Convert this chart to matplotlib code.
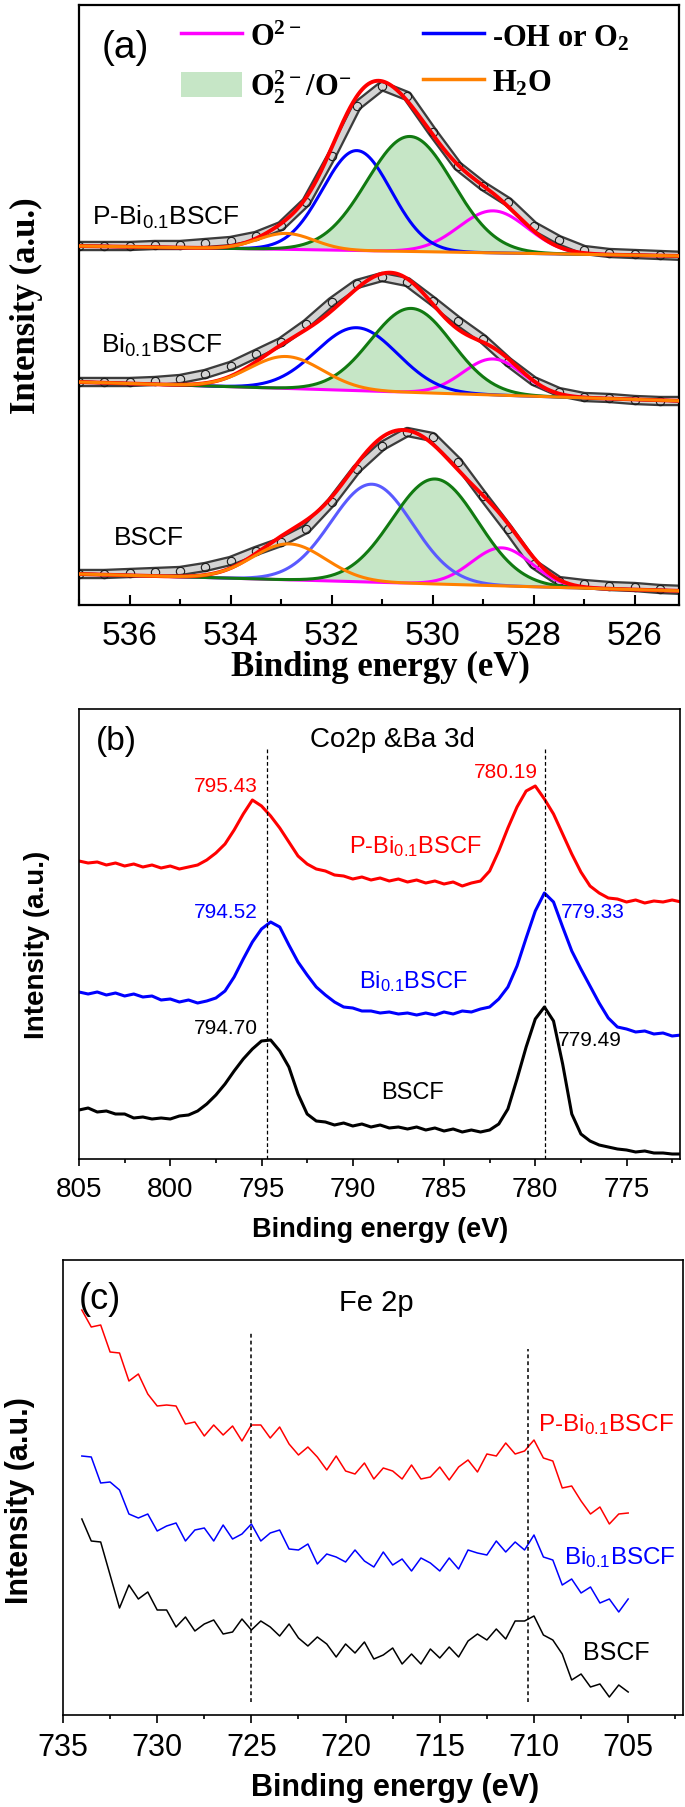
import numpy as np
import matplotlib
matplotlib.use('Agg')
import matplotlib.pyplot as plt
from matplotlib.lines import Line2D
from matplotlib.patches import Patch
from matplotlib.ticker import MultipleLocator

plt.rcParams['font.family'] = ['Liberation Sans', 'DejaVu Sans']
plt.rcParams['mathtext.fontset'] = 'custom'
plt.rcParams['mathtext.default'] = 'regular'
plt.rcParams['mathtext.rm'] = 'Liberation Sans'

# ---------------- (a) O 1s : measured points (0.5 eV steps, 537 -> 525 eV)
o1s_energy = np.arange(537.0, 524.9, -0.5)
o1s_pbi = [359, 359, 359, 360, 360, 362, 364, 369, 379, 403, 449, 499, 519,
           509, 473, 439, 419, 403, 379, 365, 355, 352, 351, 350, 349]
o1s_bi = [223, 223, 223, 224, 226, 231, 239, 251, 263, 281, 303, 321, 328,
          323, 304, 284, 266, 243, 224, 213, 208, 207, 205, 204, 204]
o1s_bscf = [31, 31, 32, 33, 34, 38, 44, 54, 63, 76, 103, 136, 159,
            173, 168, 143, 109, 76, 41, 24, 21, 19, 18, 16, 15]

# linear background, value at 537 eV and at 525 eV
bg_pbi = [359, 349]
bg_bi = [223, 204]
bg_bscf = [31, 14]

# fitted components, order: O2-, O2^2-/O-, -OH or O2, H2O
pbi_center = [528.8, 530.45, 531.5, 532.9]
pbi_height = [42, 115, 100, 16]
pbi_fwhm = [1.6, 2.0, 1.6, 1.3]
bi_center = [528.8, 530.42, 531.5, 532.9]
bi_height = [36, 84, 63, 32]
bi_fwhm = [1.4, 1.9, 1.9, 1.7]
bscf_center = [528.63, 529.95, 531.2, 532.84]
bscf_height = [38, 105, 98, 36]
bscf_fwhm = [1.4, 2.0, 1.9, 1.7]

# ---------------- (b) Co 2p & Ba 3d (0.5 eV steps, 805 -> 772 eV)
co_energy = np.arange(805.0, 771.9, -0.5)
co_pbi = [298, 296, 297, 294, 296, 293, 295, 292, 294, 291,
          293, 290, 292, 294, 299, 306, 315, 329, 345, 359,
          353, 343, 331, 317, 303, 295, 290, 288, 284, 283,
          280, 282, 279, 281, 278, 280, 277, 279, 276, 278,
          275, 277, 273, 276, 278, 288, 308, 331, 352, 368,
          373, 360, 345, 325, 305, 287, 273, 266, 261, 260,
          257, 259, 256, 258, 257, 259, 257]
co_bi = [167, 165, 167, 164, 166, 163, 165, 162, 163, 159,
         160, 157, 159, 156, 158, 161, 168, 182, 200, 217,
         230, 237, 232, 214, 197, 184, 172, 164, 157, 152,
         151, 148, 148, 146, 147, 145, 146, 144, 146, 144,
         147, 145, 148, 147, 150, 152, 160, 172, 193, 221,
         248, 266, 257, 232, 208, 190, 173, 156, 141, 132,
         130, 127, 128, 125, 126, 123, 124]
co_bscf = [49, 51, 47, 48, 45, 45, 41, 42, 40, 41,
           40, 43, 44, 48, 55, 64, 75, 88, 100, 110,
           118, 119, 108, 92, 65, 45, 38, 37, 34, 36,
           33, 35, 32, 34, 31, 32, 30, 32, 29, 31,
           28, 30, 27, 29, 27, 29, 35, 50, 80, 112,
           140, 152, 138, 95, 45, 25, 18, 14, 12, 10,
           9, 7, 8, 6, 6, 5, 5]
co_peaks_pbi = [795.43, 780.19]
co_peaks_bi = [794.52, 779.33]
co_peaks_bscf = [794.70, 779.49]

# ---------------- (c) Fe 2p (0.5 eV steps, 734 -> 705 eV)
fe_energy = np.arange(734.0, 704.9, -0.5)
fe_pbi = [405, 388, 390, 363, 362, 334, 341, 321, 309, 310,
          309, 291, 293, 279, 290, 280, 289, 274, 290, 290,
          277, 288, 271, 260, 268, 258, 245, 259, 244, 241,
          252, 236, 247, 244, 236, 250, 236, 238, 248, 235,
          248, 255, 243, 261, 259, 272, 261, 264, 275, 257,
          254, 227, 229, 214, 201, 208, 191, 201, 202]
fe_bi = [259, 258, 232, 233, 225, 201, 197, 201, 184, 189,
         192, 174, 185, 187, 174, 190, 176, 181, 191, 174,
         182, 185, 166, 165, 171, 151, 161, 158, 153, 165,
         154, 148, 163, 150, 156, 144, 157, 152, 144, 157,
         146, 165, 162, 160, 174, 163, 173, 165, 180, 158,
         155, 130, 136, 122, 128, 112, 116, 103, 116]
fe_bscf = [196, 174, 173, 140, 107, 130, 116, 123, 105, 105,
           88, 98, 84, 91, 95, 81, 83, 96, 85, 94,
           88, 79, 91, 77, 69, 78, 71, 58, 71, 62,
           73, 56, 60, 67, 51, 61, 51, 66, 57, 68,
           58, 74, 81, 75, 86, 76, 94, 94, 99, 80,
           75, 61, 35, 41, 28, 31, 18, 30, 23]
fe_lines = [725.0, 710.3]


def gauss(e, c, h, w):
    return h * np.exp(-4 * np.log(2) * (e - c) ** 2 / w ** 2)


W, H = 685, 1808
fig = plt.figure(figsize=(W / 100, H / 100), dpi=100)


def add_ax(l, t, r, b):
    return fig.add_axes([l / W, 1 - b / H, (r - l) / W, (b - t) / H])


# ======================= panel (a)
ax = add_ax(79, 6, 679, 606)
e = np.linspace(537, 525, 600)
comp_colors = ['#ff00ff', '#117a11', '#0000ff', '#ff8000']
samples = [(o1s_pbi, bg_pbi, pbi_center, pbi_height, pbi_fwhm, '#0000ff'),
           (o1s_bi, bg_bi, bi_center, bi_height, bi_fwhm, '#0000ff'),
           (o1s_bscf, bg_bscf, bscf_center, bscf_height, bscf_fwhm, '#5a5aff')]
for meas, bg, cen, hgt, fw, blue in samples:
    base = np.interp(e, [525, 537], [bg[1], bg[0]])
    comps = [gauss(e, c, h, w) for c, h, w in zip(cen, hgt, fw)]
    ax.fill_between(e, base, base + comps[1], color='#c6e6c6', lw=0, zorder=1)
    # measured data drawn as a band of open circles
    ax.plot(o1s_energy, meas, color='#3c3c3c', lw=7.5, solid_joinstyle='round',
            solid_capstyle='round', zorder=2)
    ax.plot(o1s_energy, meas, color='#d4d4d4', lw=4.2, solid_joinstyle='round',
            solid_capstyle='round', zorder=2)
    ax.plot(o1s_energy, meas, ls='none', marker='o', ms=6, mfc='none',
            mec='#1a1a1a', mew=0.8, zorder=2)
    cols = [comp_colors[0], comp_colors[1], blue, comp_colors[3]]
    for k in [0, 2, 1]:
        ax.plot(e, base + comps[k], color=cols[k], lw=2.2, zorder=3)
    ax.plot(e, base + sum(comps), color='#ff0000', lw=2.8, zorder=4)
    ax.plot(e, base + comps[3], color=cols[3], lw=2.2, zorder=5)

ax.set_xlim(537, 525.12)
ax.set_ylim(0, 600)
ax.set_yticks([])
ax.xaxis.set_major_locator(MultipleLocator(2))
ax.xaxis.set_minor_locator(MultipleLocator(1))
ax.tick_params(axis='x', which='major', direction='in', length=7, width=1.5,
               labelsize=24, pad=11)
ax.tick_params(axis='x', which='minor', direction='in', length=4.3, width=1.5)
for s in ax.spines.values():
    s.set_linewidth(1.6)
serif_bold = dict(fontfamily='Liberation Serif', fontweight='bold', fontsize=25)
ax.set_xlabel('Binding energy (eV)', va='center', **serif_bold)
ax.xaxis.set_label_coords(0.503, -0.102)
ax.set_ylabel('Intensity (a.u.)', va='center', **serif_bold)
ax.yaxis.set_label_coords(-0.088, 0.5)
ax.text(0.077, 0.93, '(a)', transform=ax.transAxes, fontsize=28, ha='center', va='center')
ax.text(536.74, 389, 'P-Bi$_{0.1}$BSCF', fontsize=19, va='center')
ax.text(536.56, 261, 'Bi$_{0.1}$BSCF', fontsize=19, va='center')
ax.text(536.31, 68, 'BSCF', fontsize=19, va='center')

handles = [Line2D([], [], color='#ff00ff', lw=2.5),
           Patch(facecolor='#c6e6c6', edgecolor='none'),
           Line2D([], [], color='#0000ff', lw=2.5),
           Line2D([], [], color='#ff8000', lw=2.5)]
labels = ['O$^{2-}$', 'O$_2^{2-}$/O$^{-}$', '-OH or O$_2$', 'H$_2$O']
ax.legend(handles, labels, ncol=2, loc='upper left', bbox_to_anchor=(0.17, 0.972),
          frameon=False, prop=dict(family='Liberation Serif', weight='bold', size=22),
          handlelength=2.0, handleheight=0.9, handletextpad=0.25,
          columnspacing=2.35, labelspacing=0.5, borderaxespad=0, borderpad=0)

# ======================= panel (b)
ax = add_ax(79, 710, 680, 1160)
ax.plot(co_energy, co_pbi, color='#ff0000', lw=2.2)
ax.plot(co_energy, co_bi, color='#0000ff', lw=2.2)
ax.plot(co_energy, co_bscf, color='#000000', lw=2.2)
for p in co_peaks_bscf:
    ax.axvline(p, ymin=0, ymax=0.915, color='k', lw=0.9, ls=(0, (3, 2)))
ax.set_xlim(805, 772.07)
ax.set_ylim(0, 450)
ax.set_yticks([])
ax.xaxis.set_major_locator(MultipleLocator(5))
ax.xaxis.set_minor_locator(MultipleLocator(2.5))
ax.tick_params(axis='x', which='major', direction='out', length=5, width=1.2,
               labelsize=20, pad=7)
ax.tick_params(axis='x', which='minor', direction='out', length=3, width=1.2)
for s in ax.spines.values():
    s.set_linewidth(1.2)
ax.set_xlabel('Binding energy (eV)', fontsize=19.5, fontweight='bold', va='center')
ax.xaxis.set_label_coords(0.501, -0.156)
ax.set_ylabel('Intensity (a.u.)', fontsize=20, fontweight='bold', va='center')
ax.yaxis.set_label_coords(-0.07, 0.478)
ax.text(0.062, 0.929, '(b)', transform=ax.transAxes, fontsize=24, ha='center', va='center')
ax.text(0.522, 0.933, 'Co2p &Ba 3d', transform=ax.transAxes, fontsize=20,
        ha='center', va='center')
peak_label_pos = [((796.95, 373), (781.6, 388)),
                  ((796.95, 248), (776.84, 248)),
                  ((796.95, 132), (777.0, 120))]
for peaks, pos, col in zip([co_peaks_pbi, co_peaks_bi, co_peaks_bscf],
                           peak_label_pos, ['#ff0000', '#0000ff', '#000000']):
    for p, (x, y) in zip(peaks, pos):
        ax.text(x, y, f'{p:.2f}', color=col, fontsize=15, ha='center', va='center')
ax.text(786.6, 313, 'P-Bi$_{0.1}$BSCF', color='#ff0000', fontsize=17, ha='center', va='center')
ax.text(786.7, 178, 'Bi$_{0.1}$BSCF', color='#0000ff', fontsize=17, ha='center', va='center')
ax.text(786.7, 67, 'BSCF', color='#000000', fontsize=17, ha='center', va='center')

# ======================= panel (c)
ax = add_ax(63, 1261, 683, 1716)
ax.plot(fe_energy, fe_pbi, color='#ff0000', lw=1.1)
ax.plot(fe_energy, fe_bi, color='#0000ff', lw=1.1)
ax.plot(fe_energy, fe_bscf, color='#000000', lw=1.1)
ax.axvline(fe_lines[0], ymin=0.029, ymax=0.842, color='k', lw=1.1, ls=(0, (2.5, 2)))
ax.axvline(fe_lines[1], ymin=0.029, ymax=0.804, color='k', lw=1.1, ls=(0, (2.5, 2)))
ax.set_xlim(735, 702.09)
ax.set_ylim(0, 455)
ax.set_yticks([])
ax.xaxis.set_major_locator(MultipleLocator(5))
ax.xaxis.set_minor_locator(MultipleLocator(2.5))
ax.tick_params(axis='x', which='major', direction='out', length=6, width=1.2,
               labelsize=22, pad=6.5)
ax.tick_params(axis='x', which='minor', direction='out', length=3, width=1.2)
for s in ax.spines.values():
    s.set_linewidth(1.2)
ax.set_xlabel('Binding energy (eV)', fontsize=22, fontweight='bold', va='center')
ax.xaxis.set_label_coords(0.535, -0.158)
ax.set_ylabel('Intensity (a.u.)', fontsize=22, fontweight='bold', va='center')
ax.yaxis.set_label_coords(-0.069, 0.4725)
ax.text(0.06, 0.916, '(c)', transform=ax.transAxes, fontsize=26, ha='center', va='center')
ax.text(0.505, 0.908, 'Fe 2p', transform=ax.transAxes, fontsize=21, ha='center', va='center')
ax.text(709.8, 291, 'P-Bi$_{0.1}$BSCF', color='#ff0000', fontsize=17.5, va='center')
ax.text(708.4, 158, 'Bi$_{0.1}$BSCF', color='#0000ff', fontsize=17.5, va='center')
ax.text(707.4, 63, 'BSCF', color='#000000', fontsize=18, va='center')

fig.savefig('out.png', dpi=100)
